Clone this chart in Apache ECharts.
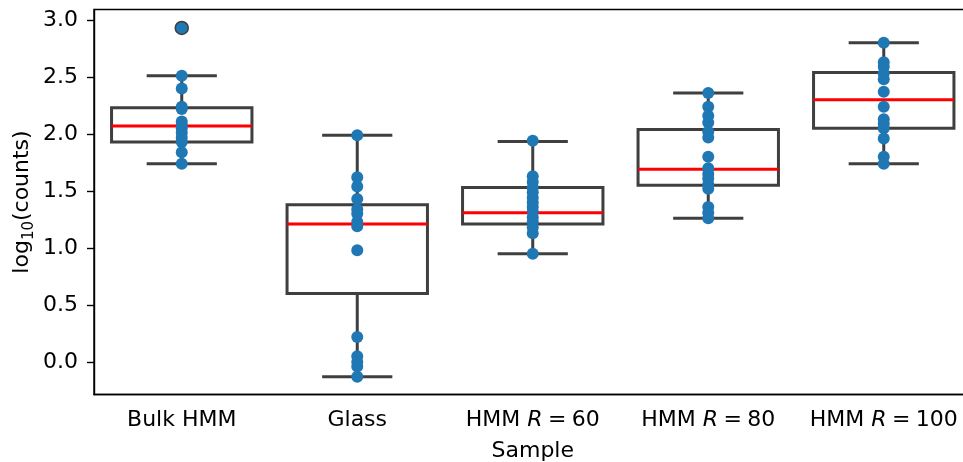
<!DOCTYPE html>
<html>
<head>
<meta charset="utf-8">
<script src="https://cdn.jsdelivr.net/npm/echarts@6/dist/echarts.min.js"></script>
<style>
  html, body { margin: 0; padding: 0; background: #fff; }
  #chart { width: 963px; height: 462px; }
</style>
</head>
<body>
<div id="chart"></div>
<script>
// Sample groups along the x axis
const categories = ['Bulk HMM', 'Glass', 'HMM R = 60', 'HMM R = 80', 'HMM R = 100'];

// Box statistics per group: [lower whisker, Q1, median, Q3, upper whisker]
const boxStats = [
  [1.74, 1.93, 2.07, 2.23, 2.51],
  [-0.13, 0.60, 1.21, 1.38, 1.99],
  [0.95, 1.21, 1.31, 1.53, 1.935],
  [1.26, 1.55, 1.69, 2.04, 2.36],
  [1.74, 2.05, 2.30, 2.54, 2.80]
];

// Outliers beyond the whiskers: [group index, value]
const outliers = [[0, 2.93]];

// Individual log10(counts) observations per group
const bulkHMM = [2.93, 2.51, 2.40, 2.24, 2.22, 2.11, 2.08, 2.05, 2.01, 1.97, 1.93, 1.84, 1.74];
const glass = [1.99, 1.62, 1.54, 1.43, 1.34, 1.30, 1.23, 1.19, 0.98, 0.22, 0.05, 0.00, -0.04, -0.13];
const hmmR60 = [1.94, 1.63, 1.58, 1.53, 1.49, 1.44, 1.40, 1.36, 1.32, 1.27, 1.23, 1.18, 1.13, 0.95];
const hmmR80 = [2.36, 2.24, 2.16, 2.10, 2.02, 1.97, 1.80, 1.70, 1.65, 1.61, 1.56, 1.52, 1.36, 1.31, 1.26];
const hmmR100 = [2.80, 2.63, 2.59, 2.53, 2.48, 2.37, 2.24, 2.13, 2.09, 2.05, 1.96, 1.80, 1.74];

// Y axis tick values
const yTicks = [0.0, 0.5, 1.0, 1.5, 2.0, 2.5, 3.0];

const groups = [bulkHMM, glass, hmmR60, hmmR80, hmmR100];
const points = [];
groups.forEach((vals, i) => vals.forEach(v => points.push([i, v])));

const boxData = boxStats.map((s, i) => [i].concat(s));

const FONT = 'DejaVu Sans';
const FS = 22;
const BOX_COLOR = '#3f3f3f';
const THIN = '\u2005';

function renderBox(params, api) {
  const idx = api.value(0);
  const band = api.size([1, 0])[0];
  const half = band * 0.4;
  const cap = band * 0.2;
  const pMin = api.coord([idx, api.value(1)]);
  const pQ1 = api.coord([idx, api.value(2)]);
  const pMed = api.coord([idx, api.value(3)]);
  const pQ3 = api.coord([idx, api.value(4)]);
  const pMax = api.coord([idx, api.value(5)]);
  const cx = pMed[0];
  const lineStyle = { stroke: BOX_COLOR, lineWidth: 3, fill: null };
  return {
    type: 'group',
    children: [
      { type: 'line', shape: { x1: cx, y1: pQ1[1], x2: cx, y2: pMin[1] }, style: lineStyle },
      { type: 'line', shape: { x1: cx, y1: pQ3[1], x2: cx, y2: pMax[1] }, style: lineStyle },
      { type: 'line', shape: { x1: cx - cap, y1: pMin[1], x2: cx + cap, y2: pMin[1] }, style: lineStyle },
      { type: 'line', shape: { x1: cx - cap, y1: pMax[1], x2: cx + cap, y2: pMax[1] }, style: lineStyle },
      { type: 'rect', shape: { x: cx - half, y: pQ3[1], width: half * 2, height: pQ1[1] - pQ3[1] },
        style: { stroke: BOX_COLOR, lineWidth: 3, fill: '#ffffff' } },
      { type: 'line', shape: { x1: cx - half, y1: pMed[1], x2: cx + half, y2: pMed[1] },
        style: { stroke: '#ff0000', lineWidth: 3 } }
    ]
  };
}

const chart = echarts.init(document.getElementById('chart'), null, { renderer: 'canvas' });

chart.setOption({
  backgroundColor: '#ffffff',
  animation: false,
  textStyle: { fontFamily: FONT },
  grid: {
    left: 94, top: 9.5, width: 877.5, height: 385,
    containLabel: false,
    outerBoundsMode: 'none',
    show: true, borderColor: '#000000', borderWidth: 1.4, backgroundColor: 'transparent'
  },
  xAxis: {
    type: 'category',
    data: categories,
    boundaryGap: true,
    name: 'Sample',
    nameLocation: 'middle',
    nameGap: 46,
    nameMoveOverlap: false,
    nameTextStyle: { fontFamily: FONT, fontSize: FS, color: '#000', verticalAlign: 'top' },
    axisLine: { onZero: false, lineStyle: { color: '#000', width: 1.4 } },
    axisTick: { alignWithLabel: true, length: 7, lineStyle: { color: '#000', width: 1.4 } },
    axisLabel: {
      interval: 0,
      hideOverlap: false,
      margin: 15,
      color: '#000',
      fontFamily: FONT,
      fontSize: FS,
      formatter: function (v) {
        const m = v.match(/^(.*) R = (.*)$/);
        if (!m) return '{n|' + v + '}';
        return '{n|' + m[1] + ' }{i|R}{n|' + THIN + '=' + THIN + m[2] + '}';
      },
      rich: {
        n: { fontFamily: FONT, fontSize: FS, color: '#000' },
        i: { fontFamily: FONT, fontSize: FS, fontStyle: 'italic', color: '#000' }
      }
    },
    splitLine: { show: false }
  },
  yAxis: {
    type: 'value',
    min: -0.285,
    max: 3.092,
    name: '{n|log}{s|10}{n|(counts)}',
    nameLocation: 'middle',
    nameGap: 57,
    nameRotate: 90,
    nameMoveOverlap: false,
    nameTextStyle: {
      rich: {
        n: { fontFamily: FONT, fontSize: FS, color: '#000', lineHeight: 30, verticalAlign: 'middle' },
        s: { fontFamily: FONT, fontSize: 15, color: '#000', lineHeight: 15, verticalAlign: 'bottom' }
      }
    },
    axisLine: { show: true, onZero: false, lineStyle: { color: '#000', width: 1.4 } },
    axisTick: { show: true, length: 7, customValues: yTicks, lineStyle: { color: '#000', width: 1.4 } },
    axisLabel: {
      margin: 16,
      color: '#000',
      fontFamily: FONT,
      fontSize: FS,
      customValues: yTicks,
      formatter: v => v.toFixed(1)
    },
    splitLine: { show: false }
  },
  series: [
    {
      type: 'custom',
      name: 'box',
      renderItem: renderBox,
      data: boxData,
      encode: { x: 0, y: [1, 2, 3, 4, 5] },
      z: 2,
      silent: true
    },
    {
      type: 'scatter',
      name: 'points',
      data: points,
      symbol: 'circle',
      symbolSize: 12,
      itemStyle: { color: '#1f77b4', opacity: 1 },
      z: 3,
      silent: true
    },
    {
      type: 'scatter',
      name: 'outliers',
      data: outliers,
      symbol: 'circle',
      symbolSize: 13,
      itemStyle: { color: '#1f77b4', borderColor: BOX_COLOR, borderWidth: 1.5, opacity: 1 },
      z: 4,
      silent: true
    }
  ]
});
</script>
</body>
</html>
